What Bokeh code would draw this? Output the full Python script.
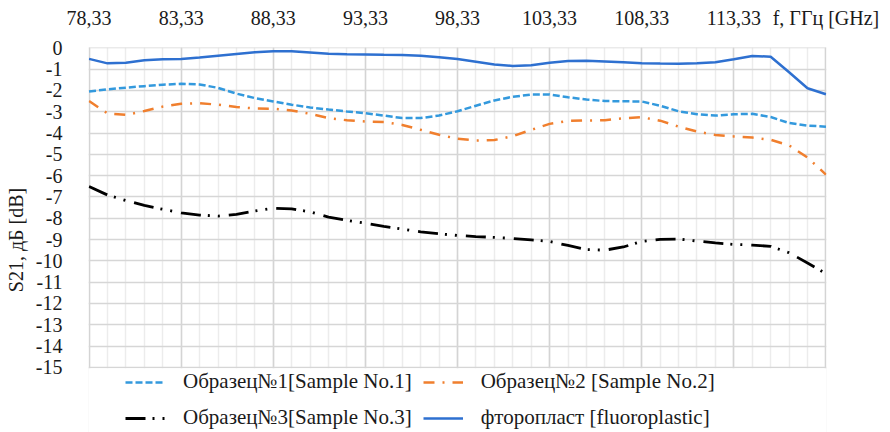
from bokeh.plotting import figure
from bokeh.models import (Range1d, FixedTicker, CustomJSTickFormatter, Legend,
                          LegendItem, ColumnDataSource, BoxAnnotation)
from bokeh.embed import file_html
from bokeh.resources import INLINE

freq = [78.33, 79.33, 80.33, 81.33, 82.33, 83.33, 84.33, 85.33, 86.33, 87.33,
        88.33, 89.33, 90.33, 91.33, 92.33, 93.33, 94.33, 95.33, 96.33, 97.33,
        98.33, 99.33, 100.33, 101.33, 102.33, 103.33, 104.33, 105.33, 106.33, 107.33,
        108.33, 109.33, 110.33, 111.33, 112.33, 113.33, 114.33, 115.33, 116.33, 117.33,
        118.33]

sample1 = [-2.05, -1.95, -1.87, -1.80, -1.73, -1.69, -1.72, -1.88, -2.15, -2.36,
           -2.52, -2.67, -2.80, -2.90, -2.99, -3.07, -3.18, -3.30, -3.30, -3.18,
           -2.98, -2.72, -2.47, -2.30, -2.19, -2.19, -2.32, -2.43, -2.50, -2.51,
           -2.52, -2.72, -2.98, -3.12, -3.18, -3.12, -3.10, -3.25, -3.53, -3.65,
           -3.70]

sample2 = [-2.50, -3.08, -3.15, -2.97, -2.76, -2.63, -2.60, -2.67, -2.78, -2.85,
           -2.86, -2.94, -3.10, -3.30, -3.40, -3.46, -3.48, -3.62, -3.85, -4.08,
           -4.27, -4.35, -4.33, -4.15, -3.85, -3.57, -3.43, -3.41, -3.40, -3.31,
           -3.26, -3.42, -3.70, -3.93, -4.09, -4.16, -4.21, -4.32, -4.58, -5.15,
           -5.95]

sample3 = [-6.51, -6.91, -7.17, -7.40, -7.58, -7.75, -7.85, -7.90, -7.82, -7.66,
           -7.53, -7.56, -7.70, -7.95, -8.10, -8.23, -8.38, -8.51, -8.64, -8.73,
           -8.81, -8.86, -8.90, -8.95, -9.02, -9.09, -9.28, -9.47, -9.50, -9.35,
           -9.09, -8.99, -8.98, -9.07, -9.16, -9.23, -9.26, -9.32, -9.62, -10.10,
           -10.60]

fluoro = [-0.52, -0.73, -0.70, -0.58, -0.54, -0.52, -0.46, -0.37, -0.29, -0.21,
          -0.16, -0.16, -0.22, -0.28, -0.30, -0.31, -0.33, -0.34, -0.37, -0.44,
          -0.52, -0.65, -0.78, -0.85, -0.82, -0.70, -0.62, -0.61, -0.64, -0.68,
          -0.72, -0.74, -0.75, -0.73, -0.68, -0.54, -0.38, -0.42, -1.15, -1.90,
          -2.18]

x_major = [78.33, 83.33, 88.33, 93.33, 98.33, 103.33, 108.33, 113.33, 118.33]
y_ticks = [0, -1, -2, -3, -4, -5, -6, -7, -8, -9, -10, -11, -12, -13, -14, -15]

legend_labels = ["Образец№1[Sample No.1]", "Образец№2 [Sample No.2]",
                 "Образец№3[Sample No.3]", "фторопласт [fluoroplastic]"]
y_title = "S21, дБ [dB]"
x_title = "f, ГГц [GHz]"

FONT = "Liberation Serif"

src = ColumnDataSource(dict(f=freq, s1=sample1, s2=sample2, s3=sample3, fl=fluoro))

# plot frame runs from the top border down to the page bottom; the area below
# -15 holds the legend
p = figure(width=890, height=432, output_backend="svg", toolbar_location=None,
           x_axis_location="above",
           x_range=Range1d(78.30, 118.36), y_range=Range1d(-18.06, 0.015),
           min_border_left=88, min_border_right=64, min_border_top=47,
           min_border_bottom=0, outline_line_color=None,
           background_fill_color="white", border_fill_color="white")

# axes (the x-axis title sits at the axis end, in place of the last tick label)
xa = p.xaxis[0]
xa.ticker = FixedTicker(ticks=x_major, minor_ticks=freq)
xa.formatter = CustomJSTickFormatter(args=dict(title=x_title), code="""
    if (tick > 118) { return title; }
    return tick.toFixed(2).replace('.', ',');
""")
xa.axis_line_color = None
xa.major_tick_line_color = None
xa.minor_tick_line_color = None
xa.major_label_standoff = 13
xa.major_label_text_font = FONT
xa.major_label_text_font_size = "20px"
xa.major_label_text_color = "#1a1a1a"

ya = p.yaxis[0]
ya.ticker = FixedTicker(ticks=y_ticks)
ya.formatter = CustomJSTickFormatter(code="return String(tick);")
ya.axis_line_color = None
ya.major_tick_line_color = None
ya.minor_tick_line_color = None
ya.major_label_standoff = 20
ya.major_label_text_font = FONT
ya.major_label_text_font_size = "20px"
ya.major_label_text_color = "#1a1a1a"
ya.axis_label = y_title
ya.axis_label_text_font = FONT
ya.axis_label_text_font_size = "20px"
ya.axis_label_text_font_style = "normal"
ya.axis_label_text_color = "#1a1a1a"
ya.axis_label_standoff = 6

# grids
p.xgrid.grid_line_color = "#d4d4d4"
p.xgrid.grid_line_width = 1.5
p.xgrid.minor_grid_line_color = "#ececec"
p.xgrid.minor_grid_line_width = 1.5
p.ygrid.grid_line_color = "#d6d6d6"
p.ygrid.grid_line_width = 1.6

# blank out the grid below the -15 line (legend area)
p.add_layout(BoxAnnotation(top=-15.04, fill_color="white", fill_alpha=1.0,
                           line_color=None, level="underlay"))

# lines
r1 = p.line("f", "s1", source=src, line_color="#3399DD", line_width=2.5,
            line_dash="7 3")
r2 = p.line("f", "s2", source=src, line_color="#F07F2E", line_width=2.5,
            line_dash="11 8 2 8")
r3 = p.line("f", "s3", source=src, line_color="#000000", line_width=2.8,
            line_dash="20 7 2 8 2 9")
r4 = p.line("f", "fl", source=src, line_color="#2E70D0", line_width=2.5)

legend = Legend(items=[LegendItem(label=legend_labels[0], renderers=[r1]),
                       LegendItem(label=legend_labels[2], renderers=[r3]),
                       LegendItem(label=legend_labels[1], renderers=[r2]),
                       LegendItem(label=legend_labels[3], renderers=[r4])],
                ncols=2,
                location=(37, 2), padding=0, margin=0, spacing=11,
                glyph_width=40, glyph_height=24, label_height=24,
                label_standoff=18,
                label_text_font=FONT, label_text_font_size="21px",
                label_text_color="#1a1a1a",
                border_line_color=None, background_fill_alpha=0)
p.add_layout(legend, "center")

open("out.html", "w").write(file_html(p, INLINE))
